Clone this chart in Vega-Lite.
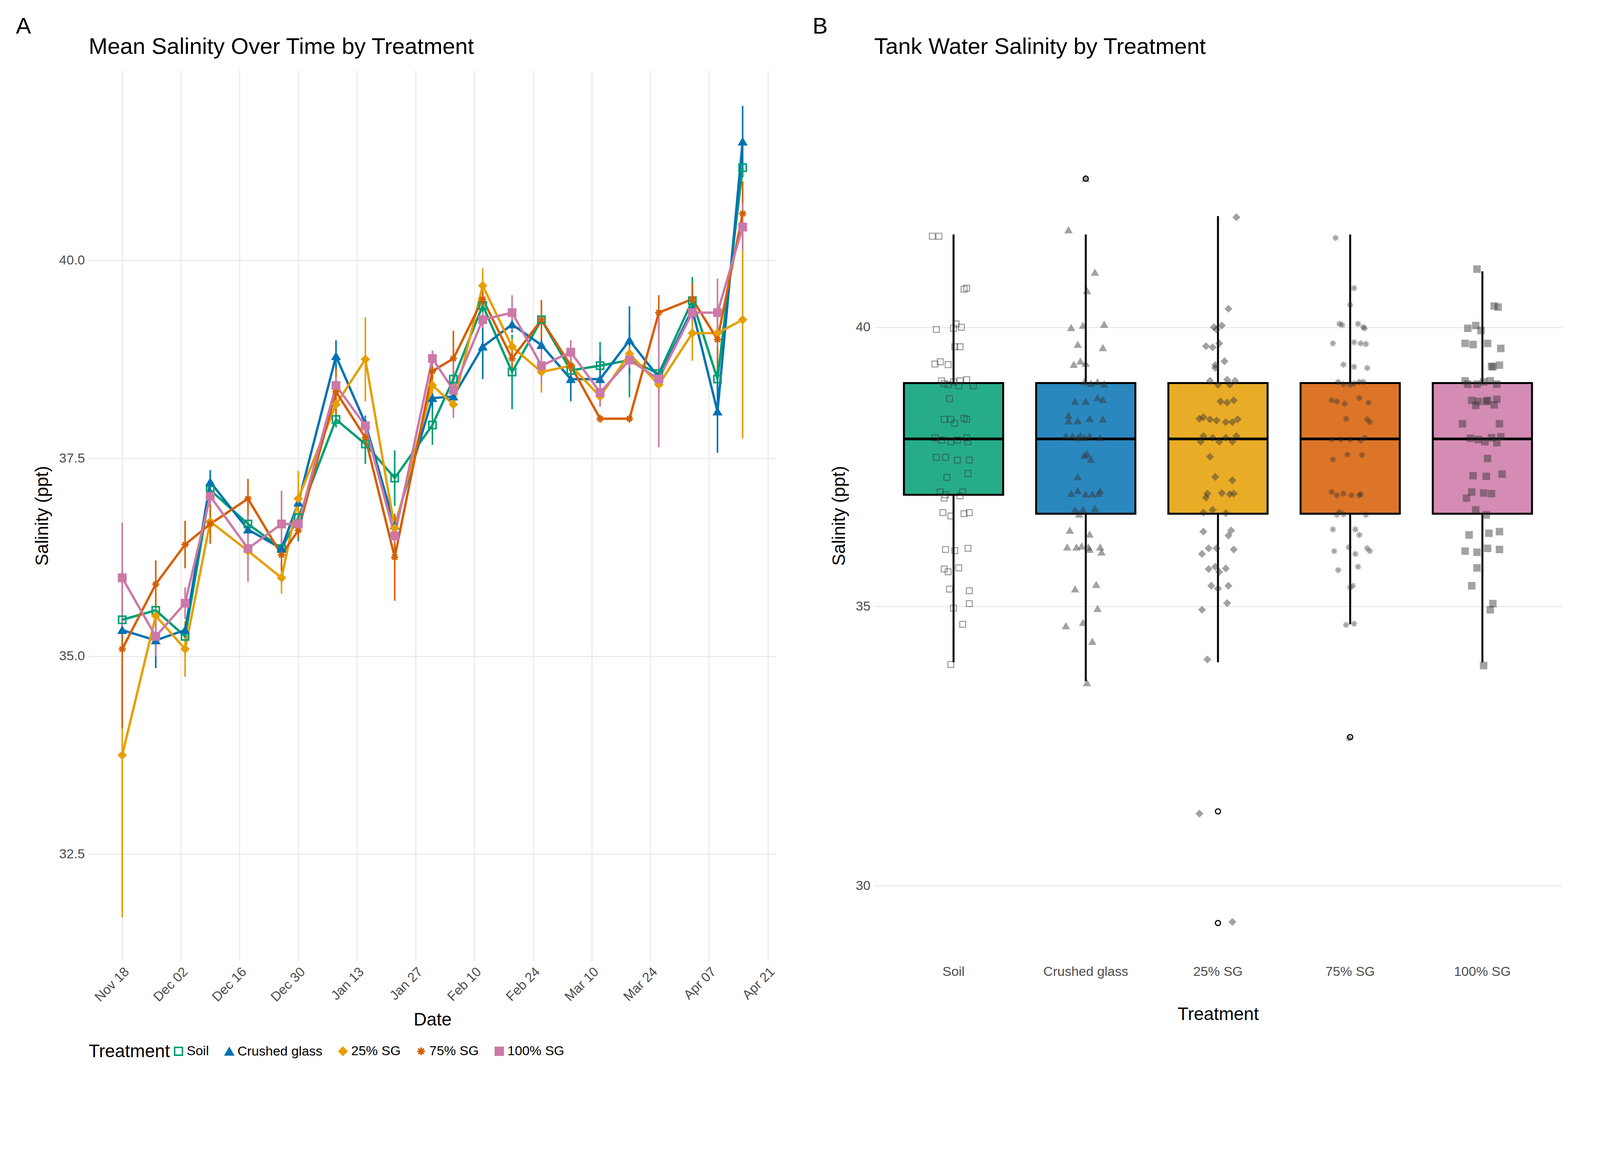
{
"$schema":"https://vega.github.io/schema/vega-lite/v6.json",
"background":"white",
"padding":{"left":40,"top":40,"right":20,"bottom":20},
"config":{"font":"Liberation Sans","view":{"stroke":null},
"axis":{"gridColor":"#ebebeb","gridWidth":3,"domain":false,"ticks":false,"labelFontSize":34,"labelColor":"#4d4d4d","titleFontSize":46,"titleFontWeight":"normal","titleColor":"black","labelPadding":10,"titlePadding":18,"labelLimit":0},
"title":{"fontSize":58,"fontWeight":"normal","anchor":"start","color":"black"},
"legend":{"orient":"bottom","direction":"horizontal","titleOrient":"left","titleFontSize":46,"titleFontWeight":"normal","titleColor":"black","labelFontSize":34,"labelColor":"black","symbolSize":400,"symbolStrokeWidth":4,"columnPadding":34,"offset":40,"labelLimit":0,"titleLimit":0}},
"datasets":{
"means":[
{"date":"2024-11-18","treatment":"Soil","mean":35.46,"lo":35.40,"hi":35.52},
{"date":"2024-11-26","treatment":"Soil","mean":35.58,"lo":35.52,"hi":35.64},
{"date":"2024-12-03","treatment":"Soil","mean":35.25,"lo":35.15,"hi":35.35},
{"date":"2024-12-09","treatment":"Soil","mean":37.10,"lo":37.00,"hi":37.20},
{"date":"2024-12-18","treatment":"Soil","mean":36.67,"lo":36.57,"hi":36.77},
{"date":"2024-12-26","treatment":"Soil","mean":36.36,"lo":36.30,"hi":36.42},
{"date":"2024-12-30","treatment":"Soil","mean":36.75,"lo":36.45,"hi":37.05},
{"date":"2025-01-08","treatment":"Soil","mean":37.99,"lo":37.89,"hi":38.09},
{"date":"2025-01-15","treatment":"Soil","mean":37.68,"lo":37.43,"hi":37.93},
{"date":"2025-01-22","treatment":"Soil","mean":37.25,"lo":36.90,"hi":37.60},
{"date":"2025-01-31","treatment":"Soil","mean":37.92,"lo":37.67,"hi":38.17},
{"date":"2025-02-05","treatment":"Soil","mean":38.50,"lo":38.42,"hi":38.58},
{"date":"2025-02-12","treatment":"Soil","mean":39.43,"lo":39.33,"hi":39.53},
{"date":"2025-02-19","treatment":"Soil","mean":38.59,"lo":38.12,"hi":39.06},
{"date":"2025-02-26","treatment":"Soil","mean":39.25,"lo":39.15,"hi":39.35},
{"date":"2025-03-05","treatment":"Soil","mean":38.61,"lo":38.51,"hi":38.71},
{"date":"2025-03-12","treatment":"Soil","mean":38.67,"lo":38.37,"hi":38.97},
{"date":"2025-03-19","treatment":"Soil","mean":38.74,"lo":38.27,"hi":39.21},
{"date":"2025-03-26","treatment":"Soil","mean":38.57,"lo":38.47,"hi":38.67},
{"date":"2025-04-03","treatment":"Soil","mean":39.49,"lo":39.19,"hi":39.79},
{"date":"2025-04-09","treatment":"Soil","mean":38.50,"lo":38.35,"hi":38.65},
{"date":"2025-04-15","treatment":"Soil","mean":41.17,"lo":41.05,"hi":41.29},
{"date":"2024-11-18","treatment":"Crushed glass","mean":35.33,"lo":35.25,"hi":35.41},
{"date":"2024-11-26","treatment":"Crushed glass","mean":35.20,"lo":34.85,"hi":35.55},
{"date":"2024-12-03","treatment":"Crushed glass","mean":35.33,"lo":35.23,"hi":35.43},
{"date":"2024-12-09","treatment":"Crushed glass","mean":37.20,"lo":37.05,"hi":37.35},
{"date":"2024-12-18","treatment":"Crushed glass","mean":36.60,"lo":36.45,"hi":36.75},
{"date":"2024-12-26","treatment":"Crushed glass","mean":36.36,"lo":36.28,"hi":36.44},
{"date":"2024-12-30","treatment":"Crushed glass","mean":36.94,"lo":36.84,"hi":37.04},
{"date":"2025-01-08","treatment":"Crushed glass","mean":38.79,"lo":38.59,"hi":38.99},
{"date":"2025-01-15","treatment":"Crushed glass","mean":37.94,"lo":37.84,"hi":38.04},
{"date":"2025-01-22","treatment":"Crushed glass","mean":36.65,"lo":36.55,"hi":36.75},
{"date":"2025-01-31","treatment":"Crushed glass","mean":38.26,"lo":38.14,"hi":38.38},
{"date":"2025-02-05","treatment":"Crushed glass","mean":38.28,"lo":38.18,"hi":38.38},
{"date":"2025-02-12","treatment":"Crushed glass","mean":38.91,"lo":38.50,"hi":39.32},
{"date":"2025-02-19","treatment":"Crushed glass","mean":39.19,"lo":39.09,"hi":39.29},
{"date":"2025-02-26","treatment":"Crushed glass","mean":38.93,"lo":38.83,"hi":39.03},
{"date":"2025-03-05","treatment":"Crushed glass","mean":38.50,"lo":38.22,"hi":38.78},
{"date":"2025-03-12","treatment":"Crushed glass","mean":38.50,"lo":38.20,"hi":38.80},
{"date":"2025-03-19","treatment":"Crushed glass","mean":38.99,"lo":38.56,"hi":39.42},
{"date":"2025-03-26","treatment":"Crushed glass","mean":38.52,"lo":38.42,"hi":38.62},
{"date":"2025-04-03","treatment":"Crushed glass","mean":39.38,"lo":39.28,"hi":39.48},
{"date":"2025-04-09","treatment":"Crushed glass","mean":38.09,"lo":37.57,"hi":38.61},
{"date":"2025-04-15","treatment":"Crushed glass","mean":41.50,"lo":41.05,"hi":41.95},
{"date":"2024-11-18","treatment":"25% SG","mean":33.75,"lo":31.70,"hi":35.80},
{"date":"2024-11-26","treatment":"25% SG","mean":35.51,"lo":35.36,"hi":35.66},
{"date":"2024-12-03","treatment":"25% SG","mean":35.09,"lo":34.74,"hi":35.44},
{"date":"2024-12-09","treatment":"25% SG","mean":36.70,"lo":36.55,"hi":36.85},
{"date":"2024-12-18","treatment":"25% SG","mean":36.33,"lo":36.23,"hi":36.43},
{"date":"2024-12-26","treatment":"25% SG","mean":35.99,"lo":35.79,"hi":36.19},
{"date":"2024-12-30","treatment":"25% SG","mean":36.99,"lo":36.64,"hi":37.34},
{"date":"2025-01-08","treatment":"25% SG","mean":38.18,"lo":38.03,"hi":38.33},
{"date":"2025-01-15","treatment":"25% SG","mean":38.75,"lo":38.22,"hi":39.28},
{"date":"2025-01-22","treatment":"25% SG","mean":36.62,"lo":36.47,"hi":36.77},
{"date":"2025-01-31","treatment":"25% SG","mean":38.42,"lo":38.32,"hi":38.52},
{"date":"2025-02-05","treatment":"25% SG","mean":38.18,"lo":38.08,"hi":38.28},
{"date":"2025-02-12","treatment":"25% SG","mean":39.68,"lo":39.46,"hi":39.90},
{"date":"2025-02-19","treatment":"25% SG","mean":38.91,"lo":38.81,"hi":39.01},
{"date":"2025-02-26","treatment":"25% SG","mean":38.59,"lo":38.33,"hi":38.85},
{"date":"2025-03-05","treatment":"25% SG","mean":38.67,"lo":38.57,"hi":38.77},
{"date":"2025-03-12","treatment":"25% SG","mean":38.28,"lo":38.18,"hi":38.38},
{"date":"2025-03-19","treatment":"25% SG","mean":38.82,"lo":38.72,"hi":38.92},
{"date":"2025-03-26","treatment":"25% SG","mean":38.43,"lo":38.33,"hi":38.53},
{"date":"2025-04-03","treatment":"25% SG","mean":39.08,"lo":38.73,"hi":39.43},
{"date":"2025-04-09","treatment":"25% SG","mean":39.08,"lo":38.98,"hi":39.18},
{"date":"2025-04-15","treatment":"25% SG","mean":39.25,"lo":37.75,"hi":40.75},
{"date":"2024-11-18","treatment":"75% SG","mean":35.09,"lo":34.09,"hi":36.09},
{"date":"2024-11-26","treatment":"75% SG","mean":35.91,"lo":35.61,"hi":36.21},
{"date":"2024-12-03","treatment":"75% SG","mean":36.41,"lo":36.11,"hi":36.71},
{"date":"2024-12-09","treatment":"75% SG","mean":36.67,"lo":36.42,"hi":36.92},
{"date":"2024-12-18","treatment":"75% SG","mean":36.99,"lo":36.74,"hi":37.24},
{"date":"2024-12-26","treatment":"75% SG","mean":36.28,"lo":36.08,"hi":36.48},
{"date":"2024-12-30","treatment":"75% SG","mean":36.59,"lo":36.49,"hi":36.69},
{"date":"2025-01-08","treatment":"75% SG","mean":38.34,"lo":38.04,"hi":38.64},
{"date":"2025-01-15","treatment":"75% SG","mean":37.76,"lo":37.66,"hi":37.86},
{"date":"2025-01-22","treatment":"75% SG","mean":36.25,"lo":35.70,"hi":36.80},
{"date":"2025-01-31","treatment":"75% SG","mean":38.60,"lo":38.50,"hi":38.70},
{"date":"2025-02-05","treatment":"75% SG","mean":38.76,"lo":38.41,"hi":39.11},
{"date":"2025-02-12","treatment":"75% SG","mean":39.51,"lo":39.41,"hi":39.61},
{"date":"2025-02-19","treatment":"75% SG","mean":38.76,"lo":38.61,"hi":38.91},
{"date":"2025-02-26","treatment":"75% SG","mean":39.25,"lo":39.00,"hi":39.50},
{"date":"2025-03-05","treatment":"75% SG","mean":38.67,"lo":38.57,"hi":38.77},
{"date":"2025-03-12","treatment":"75% SG","mean":38.00,"lo":37.95,"hi":38.05},
{"date":"2025-03-19","treatment":"75% SG","mean":38.00,"lo":37.95,"hi":38.05},
{"date":"2025-03-26","treatment":"75% SG","mean":39.34,"lo":39.12,"hi":39.56},
{"date":"2025-04-03","treatment":"75% SG","mean":39.51,"lo":39.31,"hi":39.71},
{"date":"2025-04-09","treatment":"75% SG","mean":39.00,"lo":38.63,"hi":39.37},
{"date":"2025-04-15","treatment":"75% SG","mean":40.59,"lo":40.18,"hi":41.00},
{"date":"2024-11-18","treatment":"100% SG","mean":35.99,"lo":35.29,"hi":36.69},
{"date":"2024-11-26","treatment":"100% SG","mean":35.25,"lo":35.00,"hi":35.50},
{"date":"2024-12-03","treatment":"100% SG","mean":35.67,"lo":35.47,"hi":35.87},
{"date":"2024-12-09","treatment":"100% SG","mean":37.02,"lo":36.92,"hi":37.12},
{"date":"2024-12-18","treatment":"100% SG","mean":36.36,"lo":35.94,"hi":36.78},
{"date":"2024-12-26","treatment":"100% SG","mean":36.67,"lo":36.25,"hi":37.09},
{"date":"2024-12-30","treatment":"100% SG","mean":36.67,"lo":36.57,"hi":36.77},
{"date":"2025-01-08","treatment":"100% SG","mean":38.42,"lo":38.32,"hi":38.52},
{"date":"2025-01-15","treatment":"100% SG","mean":37.91,"lo":37.81,"hi":38.01},
{"date":"2025-01-22","treatment":"100% SG","mean":36.52,"lo":36.42,"hi":36.62},
{"date":"2025-01-31","treatment":"100% SG","mean":38.76,"lo":38.66,"hi":38.86},
{"date":"2025-02-05","treatment":"100% SG","mean":38.36,"lo":38.01,"hi":38.71},
{"date":"2025-02-12","treatment":"100% SG","mean":39.25,"lo":39.15,"hi":39.35},
{"date":"2025-02-19","treatment":"100% SG","mean":39.34,"lo":39.12,"hi":39.56},
{"date":"2025-02-26","treatment":"100% SG","mean":38.67,"lo":38.45,"hi":38.89},
{"date":"2025-03-05","treatment":"100% SG","mean":38.84,"lo":38.69,"hi":38.99},
{"date":"2025-03-12","treatment":"100% SG","mean":38.33,"lo":38.15,"hi":38.51},
{"date":"2025-03-19","treatment":"100% SG","mean":38.74,"lo":38.64,"hi":38.84},
{"date":"2025-03-26","treatment":"100% SG","mean":38.50,"lo":37.64,"hi":39.36},
{"date":"2025-04-03","treatment":"100% SG","mean":39.34,"lo":39.24,"hi":39.44},
{"date":"2025-04-09","treatment":"100% SG","mean":39.34,"lo":38.91,"hi":39.77},
{"date":"2025-04-15","treatment":"100% SG","mean":40.42,"lo":40.12,"hi":40.72}
],
"box":[
{"treatment":"Soil","lower":34.0,"q1":37.0,"median":38.0,"q3":39.0,"upper":41.66},
{"treatment":"Crushed glass","lower":33.66,"q1":36.66,"median":38.0,"q3":39.0,"upper":41.66},
{"treatment":"25% SG","lower":34.0,"q1":36.66,"median":38.0,"q3":39.0,"upper":41.99},
{"treatment":"75% SG","lower":34.68,"q1":36.66,"median":38.0,"q3":39.0,"upper":41.66},
{"treatment":"100% SG","lower":34.0,"q1":36.66,"median":38.0,"q3":39.0,"upper":41.0}
],
"outliers":[
{"treatment":"Crushed glass","salinity":42.66},
{"treatment":"25% SG","salinity":31.33},
{"treatment":"25% SG","salinity":29.33},
{"treatment":"75% SG","salinity":32.66}
],
"raw":[
{"treatment":"Soil","salinity":41.63,"jitter":-0.16},{"treatment":"Soil","salinity":41.63,"jitter":-0.11},{"treatment":"Soil","salinity":40.68,"jitter":0.08},{"treatment":"Soil","salinity":40.70,"jitter":0.10},{"treatment":"Soil","salinity":39.96,"jitter":-0.13},{"treatment":"Soil","salinity":39.98,"jitter":0.0},{"treatment":"Soil","salinity":40.06,"jitter":0.02},{"treatment":"Soil","salinity":40.0,"jitter":0.06},{"treatment":"Soil","salinity":39.65,"jitter":0.01},{"treatment":"Soil","salinity":39.65,"jitter":0.05},
{"treatment":"Soil","salinity":39.34,"jitter":-0.14},{"treatment":"Soil","salinity":39.38,"jitter":-0.10},{"treatment":"Soil","salinity":39.33,"jitter":-0.04},{"treatment":"Soil","salinity":39.04,"jitter":-0.09},{"treatment":"Soil","salinity":38.99,"jitter":-0.07},{"treatment":"Soil","salinity":39.02,"jitter":0.0},{"treatment":"Soil","salinity":39.04,"jitter":0.05},{"treatment":"Soil","salinity":39.06,"jitter":0.10},{"treatment":"Soil","salinity":38.97,"jitter":-0.04},{"treatment":"Soil","salinity":38.95,"jitter":0.04},
{"treatment":"Soil","salinity":38.95,"jitter":0.15},{"treatment":"Soil","salinity":38.72,"jitter":-0.03},{"treatment":"Soil","salinity":38.35,"jitter":-0.07},{"treatment":"Soil","salinity":38.35,"jitter":-0.02},{"treatment":"Soil","salinity":38.28,"jitter":0.01},{"treatment":"Soil","salinity":38.37,"jitter":0.08},{"treatment":"Soil","salinity":38.35,"jitter":0.10},{"treatment":"Soil","salinity":38.02,"jitter":-0.14},{"treatment":"Soil","salinity":37.98,"jitter":-0.09},{"treatment":"Soil","salinity":37.95,"jitter":-0.02},
{"treatment":"Soil","salinity":37.98,"jitter":0.03},{"treatment":"Soil","salinity":38.02,"jitter":0.10},{"treatment":"Soil","salinity":37.95,"jitter":0.11},{"treatment":"Soil","salinity":37.67,"jitter":-0.13},{"treatment":"Soil","salinity":37.67,"jitter":-0.06},{"treatment":"Soil","salinity":37.62,"jitter":0.03},{"treatment":"Soil","salinity":37.62,"jitter":0.12},{"treatment":"Soil","salinity":37.31,"jitter":-0.05},{"treatment":"Soil","salinity":37.38,"jitter":0.11},{"treatment":"Soil","salinity":37.05,"jitter":-0.10},
{"treatment":"Soil","salinity":36.94,"jitter":-0.07},{"treatment":"Soil","salinity":37.0,"jitter":-0.06},{"treatment":"Soil","salinity":37.05,"jitter":0.07},{"treatment":"Soil","salinity":36.98,"jitter":0.05},{"treatment":"Soil","salinity":36.68,"jitter":-0.08},{"treatment":"Soil","salinity":36.62,"jitter":-0.02},{"treatment":"Soil","salinity":36.66,"jitter":0.08},{"treatment":"Soil","salinity":36.68,"jitter":0.12},{"treatment":"Soil","salinity":36.02,"jitter":-0.06},{"treatment":"Soil","salinity":36.0,"jitter":0.01},
{"treatment":"Soil","salinity":36.04,"jitter":0.11},{"treatment":"Soil","salinity":35.67,"jitter":-0.07},{"treatment":"Soil","salinity":35.62,"jitter":-0.04},{"treatment":"Soil","salinity":35.69,"jitter":0.04},{"treatment":"Soil","salinity":35.31,"jitter":-0.03},{"treatment":"Soil","salinity":35.28,"jitter":0.12},{"treatment":"Soil","salinity":35.05,"jitter":0.12},{"treatment":"Soil","salinity":34.97,"jitter":0.0},{"treatment":"Soil","salinity":34.68,"jitter":0.07},{"treatment":"Soil","salinity":33.96,"jitter":-0.02},
{"treatment":"Crushed glass","salinity":42.66,"jitter":0.0},{"treatment":"Crushed glass","salinity":41.74,"jitter":-0.13},{"treatment":"Crushed glass","salinity":40.98,"jitter":0.07},{"treatment":"Crushed glass","salinity":40.65,"jitter":0.01},{"treatment":"Crushed glass","salinity":39.99,"jitter":-0.11},{"treatment":"Crushed glass","salinity":40.03,"jitter":-0.02},{"treatment":"Crushed glass","salinity":40.05,"jitter":0.14},{"treatment":"Crushed glass","salinity":39.69,"jitter":-0.06},{"treatment":"Crushed glass","salinity":39.63,"jitter":0.13},{"treatment":"Crushed glass","salinity":39.39,"jitter":-0.04},
{"treatment":"Crushed glass","salinity":39.33,"jitter":-0.09},{"treatment":"Crushed glass","salinity":39.35,"jitter":0.0},{"treatment":"Crushed glass","salinity":39.02,"jitter":-0.01},{"treatment":"Crushed glass","salinity":38.99,"jitter":0.04},{"treatment":"Crushed glass","salinity":39.02,"jitter":0.09},{"treatment":"Crushed glass","salinity":38.98,"jitter":0.14},{"treatment":"Crushed glass","salinity":38.67,"jitter":-0.08},{"treatment":"Crushed glass","salinity":38.67,"jitter":0.0},{"treatment":"Crushed glass","salinity":38.74,"jitter":0.09},{"treatment":"Crushed glass","salinity":38.70,"jitter":0.13},
{"treatment":"Crushed glass","salinity":38.42,"jitter":-0.13},{"treatment":"Crushed glass","salinity":38.32,"jitter":-0.13},{"treatment":"Crushed glass","salinity":38.32,"jitter":-0.06},{"treatment":"Crushed glass","salinity":38.36,"jitter":0.03},{"treatment":"Crushed glass","salinity":38.35,"jitter":0.13},{"treatment":"Crushed glass","salinity":38.05,"jitter":-0.15},{"treatment":"Crushed glass","salinity":38.05,"jitter":-0.10},{"treatment":"Crushed glass","salinity":38.05,"jitter":-0.04},{"treatment":"Crushed glass","salinity":38.02,"jitter":-0.06},{"treatment":"Crushed glass","salinity":38.02,"jitter":-0.01},
{"treatment":"Crushed glass","salinity":38.05,"jitter":0.03},{"treatment":"Crushed glass","salinity":38.02,"jitter":0.11},{"treatment":"Crushed glass","salinity":37.70,"jitter":-0.01},{"treatment":"Crushed glass","salinity":37.73,"jitter":0.01},{"treatment":"Crushed glass","salinity":37.63,"jitter":0.04},{"treatment":"Crushed glass","salinity":37.32,"jitter":-0.06},{"treatment":"Crushed glass","salinity":37.02,"jitter":-0.11},{"treatment":"Crushed glass","salinity":37.07,"jitter":-0.06},{"treatment":"Crushed glass","salinity":37.01,"jitter":0.0},{"treatment":"Crushed glass","salinity":37.01,"jitter":0.05},
{"treatment":"Crushed glass","salinity":37.02,"jitter":0.10},{"treatment":"Crushed glass","salinity":37.07,"jitter":0.11},{"treatment":"Crushed glass","salinity":36.73,"jitter":-0.08},{"treatment":"Crushed glass","salinity":36.65,"jitter":-0.05},{"treatment":"Crushed glass","salinity":36.73,"jitter":-0.02},{"treatment":"Crushed glass","salinity":36.75,"jitter":0.07},{"treatment":"Crushed glass","salinity":36.36,"jitter":-0.12},{"treatment":"Crushed glass","salinity":36.29,"jitter":0.03},{"treatment":"Crushed glass","salinity":36.06,"jitter":-0.14},{"treatment":"Crushed glass","salinity":36.06,"jitter":-0.07},
{"treatment":"Crushed glass","salinity":36.08,"jitter":-0.03},{"treatment":"Crushed glass","salinity":36.06,"jitter":0.02},{"treatment":"Crushed glass","salinity":36.02,"jitter":0.03},{"treatment":"Crushed glass","salinity":36.06,"jitter":0.11},{"treatment":"Crushed glass","salinity":35.97,"jitter":0.12},{"treatment":"Crushed glass","salinity":35.31,"jitter":-0.08},{"treatment":"Crushed glass","salinity":35.39,"jitter":0.08},{"treatment":"Crushed glass","salinity":34.96,"jitter":0.09},{"treatment":"Crushed glass","salinity":34.65,"jitter":-0.15},{"treatment":"Crushed glass","salinity":34.71,"jitter":-0.02},
{"treatment":"Crushed glass","salinity":34.37,"jitter":0.05},{"treatment":"Crushed glass","salinity":33.63,"jitter":0.01},
{"treatment":"25% SG","salinity":41.97,"jitter":0.14},{"treatment":"25% SG","salinity":40.33,"jitter":0.08},{"treatment":"25% SG","salinity":40.0,"jitter":-0.03},{"treatment":"25% SG","salinity":40.03,"jitter":0.03},{"treatment":"25% SG","salinity":39.96,"jitter":-0.01},{"treatment":"25% SG","salinity":39.71,"jitter":0.01},{"treatment":"25% SG","salinity":39.66,"jitter":-0.09},{"treatment":"25% SG","salinity":39.64,"jitter":-0.04},{"treatment":"25% SG","salinity":39.39,"jitter":0.05},{"treatment":"25% SG","salinity":39.32,"jitter":-0.02},
{"treatment":"25% SG","salinity":39.27,"jitter":-0.02},{"treatment":"25% SG","salinity":39.04,"jitter":-0.06},{"treatment":"25% SG","salinity":39.06,"jitter":0.07},{"treatment":"25% SG","salinity":39.04,"jitter":0.13},{"treatment":"25% SG","salinity":38.97,"jitter":0.0},{"treatment":"25% SG","salinity":38.97,"jitter":0.09},{"treatment":"25% SG","salinity":38.67,"jitter":0.02},{"treatment":"25% SG","salinity":38.65,"jitter":0.07},{"treatment":"25% SG","salinity":38.69,"jitter":0.12},{"treatment":"25% SG","salinity":38.36,"jitter":-0.14},
{"treatment":"25% SG","salinity":38.39,"jitter":-0.11},{"treatment":"25% SG","salinity":38.35,"jitter":-0.06},{"treatment":"25% SG","salinity":38.33,"jitter":-0.01},{"treatment":"25% SG","salinity":38.30,"jitter":0.06},{"treatment":"25% SG","salinity":38.30,"jitter":0.11},{"treatment":"25% SG","salinity":38.35,"jitter":0.15},{"treatment":"25% SG","salinity":38.05,"jitter":-0.11},{"treatment":"25% SG","salinity":38.02,"jitter":-0.04},{"treatment":"25% SG","salinity":38.02,"jitter":0.06},{"treatment":"25% SG","salinity":38.05,"jitter":0.14},
{"treatment":"25% SG","salinity":37.95,"jitter":-0.13},{"treatment":"25% SG","salinity":37.95,"jitter":0.01},{"treatment":"25% SG","salinity":37.95,"jitter":0.11},{"treatment":"25% SG","salinity":37.68,"jitter":-0.06},{"treatment":"25% SG","salinity":37.32,"jitter":-0.02},{"treatment":"25% SG","salinity":37.26,"jitter":0.11},{"treatment":"25% SG","salinity":37.02,"jitter":-0.08},{"treatment":"25% SG","salinity":36.95,"jitter":-0.09},{"treatment":"25% SG","salinity":37.03,"jitter":0.03},{"treatment":"25% SG","salinity":37.01,"jitter":0.09},
{"treatment":"25% SG","salinity":37.02,"jitter":0.12},{"treatment":"25% SG","salinity":36.68,"jitter":-0.11},{"treatment":"25% SG","salinity":36.73,"jitter":-0.04},{"treatment":"25% SG","salinity":36.67,"jitter":0.06},{"treatment":"25% SG","salinity":36.34,"jitter":-0.11},{"treatment":"25% SG","salinity":36.36,"jitter":0.10},{"treatment":"25% SG","salinity":36.27,"jitter":0.08},{"treatment":"25% SG","salinity":36.04,"jitter":-0.01},{"treatment":"25% SG","salinity":36.02,"jitter":0.12},{"treatment":"25% SG","salinity":35.94,"jitter":-0.12},
{"treatment":"25% SG","salinity":36.04,"jitter":-0.07},{"treatment":"25% SG","salinity":35.71,"jitter":-0.02},{"treatment":"25% SG","salinity":35.67,"jitter":-0.07},{"treatment":"25% SG","salinity":35.62,"jitter":0.01},{"treatment":"25% SG","salinity":35.68,"jitter":0.06},{"treatment":"25% SG","salinity":35.37,"jitter":-0.05},{"treatment":"25% SG","salinity":35.32,"jitter":0.0},{"treatment":"25% SG","salinity":35.37,"jitter":0.08},{"treatment":"25% SG","salinity":35.06,"jitter":0.07},{"treatment":"25% SG","salinity":34.94,"jitter":-0.12},
{"treatment":"25% SG","salinity":34.05,"jitter":-0.08},{"treatment":"25% SG","salinity":31.29,"jitter":-0.14},{"treatment":"25% SG","salinity":29.35,"jitter":0.11},
{"treatment":"75% SG","salinity":41.60,"jitter":-0.11},{"treatment":"75% SG","salinity":40.70,"jitter":0.03},{"treatment":"75% SG","salinity":40.40,"jitter":0.0},{"treatment":"75% SG","salinity":40.06,"jitter":-0.08},{"treatment":"75% SG","salinity":40.04,"jitter":-0.06},{"treatment":"75% SG","salinity":40.06,"jitter":0.06},{"treatment":"75% SG","salinity":39.98,"jitter":0.11},{"treatment":"75% SG","salinity":40.0,"jitter":0.10},{"treatment":"75% SG","salinity":39.71,"jitter":-0.13},{"treatment":"75% SG","salinity":39.73,"jitter":0.03},
{"treatment":"75% SG","salinity":39.71,"jitter":0.08},{"treatment":"75% SG","salinity":39.70,"jitter":0.12},{"treatment":"75% SG","salinity":39.33,"jitter":-0.05},{"treatment":"75% SG","salinity":39.29,"jitter":0.03},{"treatment":"75% SG","salinity":39.27,"jitter":0.13},{"treatment":"75% SG","salinity":39.02,"jitter":-0.09},{"treatment":"75% SG","salinity":38.98,"jitter":-0.05},{"treatment":"75% SG","salinity":38.97,"jitter":0.0},{"treatment":"75% SG","salinity":38.99,"jitter":0.03},{"treatment":"75% SG","salinity":39.02,"jitter":0.07},
{"treatment":"75% SG","salinity":39.02,"jitter":0.10},{"treatment":"75% SG","salinity":38.69,"jitter":-0.14},{"treatment":"75% SG","salinity":38.67,"jitter":-0.10},{"treatment":"75% SG","salinity":38.63,"jitter":-0.04},{"treatment":"75% SG","salinity":38.73,"jitter":0.07},{"treatment":"75% SG","salinity":38.65,"jitter":0.14},{"treatment":"75% SG","salinity":38.36,"jitter":-0.03},{"treatment":"75% SG","salinity":38.35,"jitter":0.13},{"treatment":"75% SG","salinity":38.30,"jitter":0.15},{"treatment":"75% SG","salinity":37.99,"jitter":-0.14},
{"treatment":"75% SG","salinity":37.99,"jitter":-0.07},{"treatment":"75% SG","salinity":37.99,"jitter":0.0},{"treatment":"75% SG","salinity":37.97,"jitter":0.08},{"treatment":"75% SG","salinity":38.02,"jitter":0.11},{"treatment":"75% SG","salinity":37.72,"jitter":-0.02},{"treatment":"75% SG","salinity":37.71,"jitter":0.09},{"treatment":"75% SG","salinity":37.63,"jitter":-0.13},{"treatment":"75% SG","salinity":37.05,"jitter":-0.14},{"treatment":"75% SG","salinity":37.02,"jitter":-0.05},{"treatment":"75% SG","salinity":36.99,"jitter":-0.10},
{"treatment":"75% SG","salinity":36.99,"jitter":0.01},{"treatment":"75% SG","salinity":36.99,"jitter":0.07},{"treatment":"75% SG","salinity":37.01,"jitter":0.08},{"treatment":"75% SG","salinity":36.64,"jitter":-0.10},{"treatment":"75% SG","salinity":36.65,"jitter":-0.05},{"treatment":"75% SG","salinity":36.69,"jitter":-0.08},{"treatment":"75% SG","salinity":36.64,"jitter":0.12},{"treatment":"75% SG","salinity":36.38,"jitter":-0.13},{"treatment":"75% SG","salinity":36.38,"jitter":0.04},{"treatment":"75% SG","salinity":36.28,"jitter":0.07},
{"treatment":"75% SG","salinity":35.99,"jitter":-0.12},{"treatment":"75% SG","salinity":36.06,"jitter":-0.01},{"treatment":"75% SG","salinity":35.94,"jitter":0.04},{"treatment":"75% SG","salinity":36.04,"jitter":0.13},{"treatment":"75% SG","salinity":35.99,"jitter":0.15},{"treatment":"75% SG","salinity":35.65,"jitter":-0.09},{"treatment":"75% SG","salinity":35.71,"jitter":0.06},{"treatment":"75% SG","salinity":35.34,"jitter":0.0},{"treatment":"75% SG","salinity":35.37,"jitter":0.02},{"treatment":"75% SG","salinity":34.67,"jitter":-0.03},
{"treatment":"75% SG","salinity":34.69,"jitter":0.03},{"treatment":"75% SG","salinity":32.64,"jitter":-0.01},
{"treatment":"100% SG","salinity":41.04,"jitter":-0.04},{"treatment":"100% SG","salinity":40.38,"jitter":0.09},{"treatment":"100% SG","salinity":40.36,"jitter":0.12},{"treatment":"100% SG","salinity":39.98,"jitter":-0.11},{"treatment":"100% SG","salinity":40.03,"jitter":-0.05},{"treatment":"100% SG","salinity":39.94,"jitter":-0.01},{"treatment":"100% SG","salinity":39.71,"jitter":-0.13},{"treatment":"100% SG","salinity":39.69,"jitter":-0.07},{"treatment":"100% SG","salinity":39.71,"jitter":0.04},{"treatment":"100% SG","salinity":39.62,"jitter":0.14},
{"treatment":"100% SG","salinity":39.30,"jitter":0.07},{"treatment":"100% SG","salinity":39.32,"jitter":0.13},{"treatment":"100% SG","salinity":39.29,"jitter":0.08},{"treatment":"100% SG","salinity":39.04,"jitter":-0.13},{"treatment":"100% SG","salinity":38.98,"jitter":-0.11},{"treatment":"100% SG","salinity":38.98,"jitter":-0.04},{"treatment":"100% SG","salinity":39.02,"jitter":0.01},{"treatment":"100% SG","salinity":39.04,"jitter":0.06},{"treatment":"100% SG","salinity":38.98,"jitter":0.11},{"treatment":"100% SG","salinity":38.69,"jitter":-0.08},
{"treatment":"100% SG","salinity":38.67,"jitter":-0.03},{"treatment":"100% SG","salinity":38.67,"jitter":0.03},{"treatment":"100% SG","salinity":38.69,"jitter":0.04},{"treatment":"100% SG","salinity":38.60,"jitter":-0.05},{"treatment":"100% SG","salinity":38.61,"jitter":0.09},{"treatment":"100% SG","salinity":38.71,"jitter":0.11},{"treatment":"100% SG","salinity":38.27,"jitter":-0.15},{"treatment":"100% SG","salinity":38.27,"jitter":0.13},{"treatment":"100% SG","salinity":38.01,"jitter":-0.09},{"treatment":"100% SG","salinity":37.99,"jitter":-0.03},
{"treatment":"100% SG","salinity":37.95,"jitter":0.02},{"treatment":"100% SG","salinity":38.02,"jitter":0.07},{"treatment":"100% SG","salinity":37.93,"jitter":0.11},{"treatment":"100% SG","salinity":38.04,"jitter":0.14},{"treatment":"100% SG","salinity":37.65,"jitter":0.04},{"treatment":"100% SG","salinity":37.34,"jitter":-0.07},{"treatment":"100% SG","salinity":37.33,"jitter":0.03},{"treatment":"100% SG","salinity":37.37,"jitter":0.15},{"treatment":"100% SG","salinity":37.05,"jitter":-0.08},{"treatment":"100% SG","salinity":37.03,"jitter":0.01},
{"treatment":"100% SG","salinity":37.02,"jitter":0.07},{"treatment":"100% SG","salinity":36.94,"jitter":-0.12},{"treatment":"100% SG","salinity":36.73,"jitter":-0.05},{"treatment":"100% SG","salinity":36.64,"jitter":0.03},{"treatment":"100% SG","salinity":36.28,"jitter":-0.10},{"treatment":"100% SG","salinity":36.31,"jitter":0.05},{"treatment":"100% SG","salinity":36.34,"jitter":0.13},{"treatment":"100% SG","salinity":35.99,"jitter":-0.13},{"treatment":"100% SG","salinity":35.97,"jitter":-0.04},{"treatment":"100% SG","salinity":36.04,"jitter":0.04},
{"treatment":"100% SG","salinity":36.02,"jitter":0.13},{"treatment":"100% SG","salinity":35.69,"jitter":-0.04},{"treatment":"100% SG","salinity":35.37,"jitter":-0.08},{"treatment":"100% SG","salinity":35.05,"jitter":0.08},{"treatment":"100% SG","salinity":34.94,"jitter":0.06},{"treatment":"100% SG","salinity":33.94,"jitter":0.01}
]
},
"hconcat":[
{"title":{"text":"A","fontSize":58,"dx":-45,"dy":10},
"vconcat":[{
"title":{"text":"Mean Salinity Over Time by Treatment","frame":"group","offset":30},
"width":1760,"height":2280,
"data":{"name":"means"},
"encoding":{
"x":{"field":"date","type":"temporal","title":"Date",
"scale":{"domain":[{"year":2024,"month":11,"date":10},{"year":2025,"month":4,"date":23}]},
"axis":{"format":"%b %d","labelAngle":-45,"labelAlign":"right","labelBaseline":"top",
"values":[{"year":2024,"month":11,"date":18},{"year":2024,"month":12,"date":2},{"year":2024,"month":12,"date":16},{"year":2024,"month":12,"date":30},{"year":2025,"month":1,"date":13},{"year":2025,"month":1,"date":27},{"year":2025,"month":2,"date":10},{"year":2025,"month":2,"date":24},{"year":2025,"month":3,"date":10},{"year":2025,"month":3,"date":24},{"year":2025,"month":4,"date":7},{"year":2025,"month":4,"date":21}]}},
"color":{"field":"treatment","type":"nominal","title":"Treatment",
"scale":{"domain":["Soil","Crushed glass","25% SG","75% SG","100% SG"],"range":["#009E73","#0072B2","#E69F00","#D55E00","#CC79A7"]}}
},
"layer":[
{"mark":{"type":"rule","strokeWidth":4},
"encoding":{"y":{"field":"lo","type":"quantitative"},"y2":{"field":"hi"}}},
{"mark":{"type":"line","strokeWidth":6},
"encoding":{"y":{"field":"mean","type":"quantitative","title":"Salinity (ppt)",
"scale":{"domain":[31.15,42.4],"nice":false,"zero":false},
"axis":{"values":[32.5,35,37.5,40],"format":".1f"}}}},
{"mark":{"type":"point","filled":true,"size":340,"strokeWidth":4,"opacity":1},
"encoding":{"y":{"field":"mean","type":"quantitative"},
"stroke":{"field":"treatment","type":"nominal","title":"Treatment","scale":{"domain":["Soil","Crushed glass","25% SG","75% SG","100% SG"],"range":["#009E73","#0072B2","#E69F00","#D55E00","#CC79A7"]}},
"fill":{"field":"treatment","type":"nominal","title":"Treatment","scale":{"domain":["Soil","Crushed glass","25% SG","75% SG","100% SG"],"range":["transparent","#0072B2","#E69F00","transparent","#CC79A7"]}},
"shape":{"field":"treatment","type":"nominal","title":"Treatment","scale":{"domain":["Soil","Crushed glass","25% SG","75% SG","100% SG"],"range":["square","triangle-up","diamond","M-1,0L1,0M0,-1L0,1M-0.7,-0.7L0.7,0.7M-0.7,0.7L0.7,-0.7","square"]}}}}
]
}]},
{"title":{"text":"B","fontSize":58,"dx":-45,"dy":10},
"vconcat":[{
"title":{"text":"Tank Water Salinity by Treatment","frame":"group","offset":30},
"width":1760,"height":2280,
"encoding":{
"x":{"field":"treatment","type":"nominal","sort":["Soil","Crushed glass","25% SG","75% SG","100% SG"],"title":"Treatment",
"scale":{"paddingInner":0,"paddingOuter":0.1},"axis":{"labelAngle":0,"titlePadding":70}}
},
"layer":[
{"data":{"name":"box"},"mark":{"type":"rule","strokeWidth":5,"color":"black"},
"encoding":{"y":{"field":"lower","type":"quantitative","title":"Salinity (ppt)",
"scale":{"domain":[28.65,44.6],"nice":false,"zero":false},"axis":{"values":[30,35,40],"format":"d"}},"y2":{"field":"upper"}}},
{"data":{"name":"box"},"mark":{"type":"bar","size":254,"stroke":"black","strokeWidth":5},
"encoding":{"y":{"field":"q1","type":"quantitative"},"y2":{"field":"q3"},
"fill":{"field":"treatment","type":"nominal","legend":null,
"scale":{"domain":["Soil","Crushed glass","25% SG","75% SG","100% SG"],"range":["#26ad88","#2a88bf","#e9ac27","#dd7528","#d48cb4"]}}}},
{"data":{"name":"box"},"mark":{"type":"tick","color":"black","thickness":7,"size":254,"opacity":1},
"encoding":{"y":{"field":"median","type":"quantitative"}}},
{"data":{"name":"outliers"},"mark":{"type":"point","shape":"circle","filled":false,"color":"black","size":170,"strokeWidth":3,"opacity":1},
"encoding":{"y":{"field":"salinity","type":"quantitative"}}},
{"data":{"name":"raw"},"transform":[{"filter":"datum.treatment !== 'Soil'"}],
"mark":{"type":"point","filled":true,"color":"#333333","stroke":"#333333","strokeWidth":3,"opacity":0.45,"size":260},
"encoding":{"y":{"field":"salinity","type":"quantitative"},
"xOffset":{"field":"jitter","type":"quantitative","scale":{"domain":[-0.5,0.5],"range":[0,338]}},
"shape":{"field":"treatment","type":"nominal","legend":null,"scale":{"domain":["Crushed glass","25% SG","75% SG","100% SG"],"range":["triangle-up","diamond","M-1,0L1,0M0,-1L0,1M-0.7,-0.7L0.7,0.7M-0.7,0.7L0.7,-0.7","square"]}}}},
{"data":{"name":"raw"},"transform":[{"filter":"datum.treatment === 'Soil'"}],
"mark":{"type":"point","shape":"square","filled":false,"color":"#333333","strokeWidth":2.5,"opacity":0.5,"size":230},
"encoding":{"y":{"field":"salinity","type":"quantitative"},
"xOffset":{"field":"jitter","type":"quantitative","scale":{"domain":[-0.5,0.5],"range":[0,338]}}}}
]
}]}
],
"spacing":90,
"resolve":{"scale":{"color":"independent","fill":"independent","shape":"independent","stroke":"independent"}}
}
